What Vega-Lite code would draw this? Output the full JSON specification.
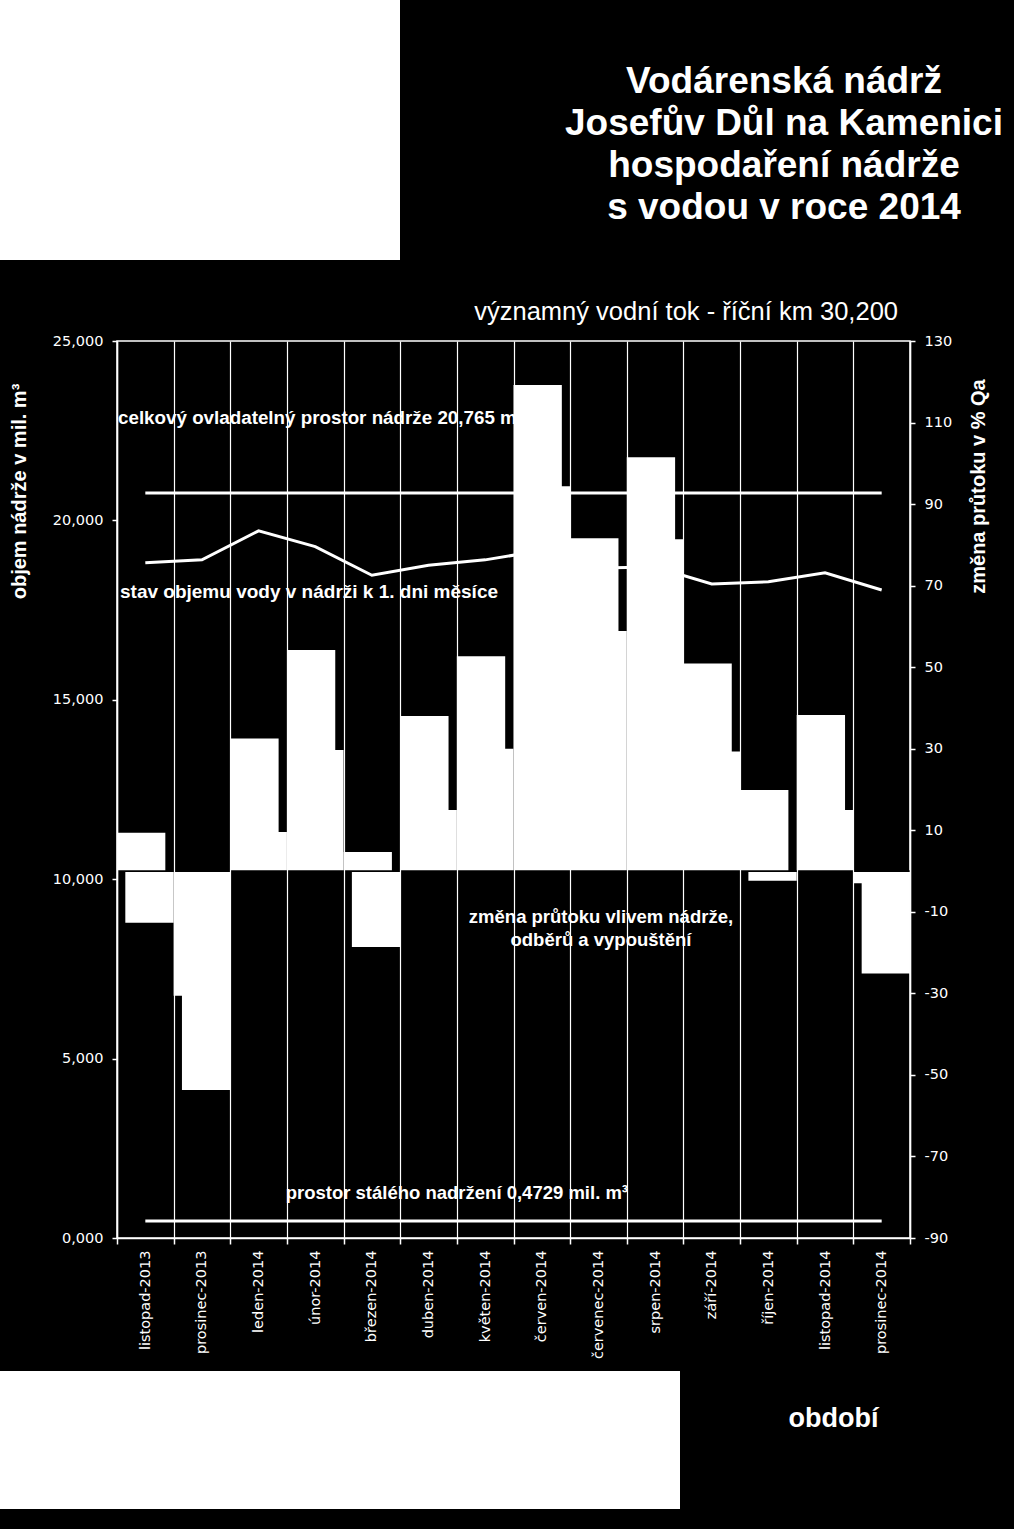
{
  "$schema": "https://vega.github.io/schema/vega-lite/v6.json",
  "background": "black",
  "padding": {"left": 0, "top": 0, "right": 0, "bottom": 20},
  "config": {"view": {"stroke": null}, "font": "Liberation Sans"},
  "columns": 2,
  "spacing": 0,
  "align": "none",
  "bounds": "flush",
  "concat": [
    {"width": 117, "height": 260, "view": {"fill": "white", "stroke": null}, "data": {"values": [{}]}, "mark": {"type": "text", "text": ""}},
    {"hconcat": [
      {"width": 283, "height": 260, "view": {"fill": "white", "stroke": null}, "data": {"values": [{}]}, "mark": {"type": "text", "text": ""}},
      {"width": 154, "height": 128, "data": {"values": [{}]}, "mark": {"type": "text", "text": ""}},
      {"width": 460, "height": 128, "data": {"values": [{}]},
       "mark": {"type": "text", "text": ["Vodárenská nádrž", "Josefův Důl na Kamenici", "hospodaření nádrže", "s vodou v roce 2014"], "align": "center", "baseline": "top", "fontSize": 37, "fontWeight": "bold", "lineHeight": 42, "color": "white", "font": "Liberation Sans"}}
     ], "spacing": 0, "bounds": "flush"},
    {"width": 117, "height": 81, "data": {"values": [{}]}, "mark": {"type": "text", "text": ""}},
    {"width": 20, "height": 20, "data": {"values": [{}]}, "mark": {"type": "text", "text": ""}},
    {"width": 117, "height": 897, "data": {"values": [{}]}, "mark": {"type": "text", "text": ""}},
    {
      "width": 793,
      "height": 897,
      "view": {"stroke": "white", "strokeWidth": 1.5},
      "title": {"text": "významný vodní  tok - říční km 30,200", "frame": "group", "anchor": "end", "dx": -12, "offset": -12, "baseline": "alphabetic", "fontSize": 25.5, "fontWeight": "normal", "color": "white", "font": "Liberation Sans"},
      "data": {"values": [
        {"mesic": "listopad-2013", "objem": 18.82, "zmena1": 9.4, "zmena2": -12.7},
        {"mesic": "prosinec-2013", "objem": 18.90, "zmena1": -30.6, "zmena2": -53.7},
        {"mesic": "leden-2014", "objem": 19.71, "zmena1": 32.5, "zmena2": 9.6},
        {"mesic": "únor-2014", "objem": 19.27, "zmena1": 54.2, "zmena2": 29.7},
        {"mesic": "březen-2014", "objem": 18.47, "zmena1": 4.7, "zmena2": -18.6},
        {"mesic": "duben-2014", "objem": 18.75, "zmena1": 38.0, "zmena2": 15.0},
        {"mesic": "květen-2014", "objem": 18.90, "zmena1": 52.7, "zmena2": 30.0},
        {"mesic": "červen-2014", "objem": 19.16, "zmena1": 119.2, "zmena2": 94.4},
        {"mesic": "červenec-2014", "objem": 18.67, "zmena1": 81.6, "zmena2": 58.9},
        {"mesic": "srpen-2014", "objem": 18.70, "zmena1": 101.5, "zmena2": 81.4},
        {"mesic": "září-2014", "objem": 18.23, "zmena1": 50.9, "zmena2": 29.3},
        {"mesic": "říjen-2014", "objem": 18.29, "zmena1": 19.9, "zmena2": -2.4},
        {"mesic": "listopad-2014", "objem": 18.54, "zmena1": 38.3, "zmena2": 15.0},
        {"mesic": "prosinec-2014", "objem": 18.06, "zmena1": -3.0, "zmena2": -25.1}
      ]},
      "layer": [
        {"mark": {"type": "line", "color": "white", "strokeWidth": 3},
         "encoding": {
           "x": {"field": "mesic", "type": "ordinal", "sort": null,
                 "scale": {"domain": ["listopad-2013","prosinec-2013","leden-2014","únor-2014","březen-2014","duben-2014","květen-2014","červen-2014","červenec-2014","srpen-2014","září-2014","říjen-2014","listopad-2014","prosinec-2014"], "paddingInner": 0, "paddingOuter": 0},
                 "axis": {"orient": "bottom", "zindex": 1, "title": "období", "titleX": 716, "titleY": 188, "titleAlign": "center", "titleBaseline": "alphabetic", "titleAngle": 0, "titleFontSize": 27, "titleFontWeight": "bold", "titleColor": "white", "titleFont": "Liberation Sans",
                          "labelAngle": 270, "labelFont": "DejaVu Sans", "labelFontSize": 14.5, "labelColor": "white", "labelPadding": 6, "labelOverlap": false,
                          "tickBand": "extent", "tickSize": 6, "tickColor": "white", "tickWidth": 1.5,
                          "grid": true, "gridColor": "white", "gridWidth": 1.2, "domainColor": "white", "domainWidth": 1.5}},
           "y": {"field": "objem", "type": "quantitative",
                 "scale": {"domain": [0, 25], "nice": false, "zero": false},
                 "axis": {"orient": "left", "zindex": 1, "values": [0, 5, 10, 15, 20, 25], "labelExpr": "replace(format(datum.value, '.3f'), '.', ',')",
                          "labelFont": "DejaVu Sans", "labelFontSize": 14.5, "labelColor": "white", "labelPadding": 9,
                          "tickSize": 5, "tickColor": "white", "tickWidth": 1.5, "domainColor": "white", "domainWidth": 1.5, "grid": false,
                          "title": "objem nádrže v mil. m³", "titleX": -98, "titleY": 150, "titleAngle": 270, "titleAlign": "center", "titleBaseline": "middle",
                          "titleFontSize": 20, "titleFontWeight": "bold", "titleColor": "white", "titleFont": "Liberation Sans"}}
         }},
        {"data": {"values": [{}]},
         "mark": {"type": "text", "text": "celkový ovladatelný prostor nádrže 20,765 mil. m³", "align": "left", "baseline": "alphabetic", "dx": 1, "fontSize": 18.8, "fontWeight": "bold", "color": "white"},
         "encoding": {
           "x": {"datum": "listopad-2013", "bandPosition": 0},
           "y": {"datum": 22.69, "scale": {"domain": [0, 25], "nice": false, "zero": false}, "axis": null}
         }},
        {"data": {"values": [{}]},
         "mark": {"type": "rule", "color": "white", "strokeWidth": 3},
         "encoding": {
           "x": {"datum": "listopad-2013"},
           "x2": {"datum": "prosinec-2014"},
           "y": {"datum": 20.765, "scale": {"domain": [0, 25], "nice": false, "zero": false}, "axis": null}
         }},
        {"data": {"values": [{}]},
         "mark": {"type": "rule", "color": "white", "strokeWidth": 3},
         "encoding": {
           "x": {"datum": "listopad-2013"},
           "x2": {"datum": "prosinec-2014"},
           "y": {"datum": 0.4729, "scale": {"domain": [0, 25], "nice": false, "zero": false}, "axis": null}
         }},
        {"data": {"values": [{}]},
         "mark": {"type": "text", "text": "stav objemu vody v  nádrži k 1. dni měsíce", "align": "left", "baseline": "alphabetic", "dx": 3, "fontSize": 19, "fontWeight": "bold", "color": "white"},
         "encoding": {
           "x": {"datum": "listopad-2013", "bandPosition": 0},
           "y": {"datum": 17.84, "scale": {"domain": [0, 25], "nice": false, "zero": false}, "axis": null}
         }},
        {"data": {"values": [{}]},
         "mark": {"type": "text", "text": "prostor stálého nadržení 0,4729 mil. m³", "align": "center", "baseline": "alphabetic", "fontSize": 18.5, "fontWeight": "bold", "color": "white"},
         "encoding": {
           "x": {"datum": "květen-2014", "bandPosition": 0},
           "y": {"datum": 1.087, "scale": {"domain": [0, 25], "nice": false, "zero": false}, "axis": null}
         }},
        {"mark": {"type": "bar", "color": "white", "width": {"band": 0.853}, "xOffset": -4.15},
         "encoding": {
           "x": {"field": "mesic", "type": "ordinal", "sort": null},
           "y": {"field": "zmena1", "type": "quantitative",
                 "scale": {"domain": [-90, 130], "nice": false},
                 "axis": {"orient": "right", "zindex": 1, "values": [-90, -70, -50, -30, -10, 10, 30, 50, 70, 90, 110, 130], "labelExpr": "replace(datum.label, '−', '-')",
                          "labelFont": "DejaVu Sans", "labelFontSize": 14.5, "labelColor": "white", "labelPadding": 9,
                          "tickSize": 5, "tickColor": "white", "tickWidth": 1.5, "domainColor": "white", "domainWidth": 1.5, "grid": false,
                          "title": "změna průtoku v % Qa", "titleX": 68, "titleY": 145, "titleAngle": 270, "titleAlign": "center", "titleBaseline": "middle",
                          "titleFontSize": 20, "titleFontWeight": "bold", "titleColor": "white", "titleFont": "Liberation Sans"}}
         }},
        {"mark": {"type": "bar", "color": "white", "width": {"band": 0.853}, "xOffset": 4.15},
         "encoding": {
           "x": {"field": "mesic", "type": "ordinal", "sort": null},
           "y": {"field": "zmena2", "type": "quantitative", "scale": {"domain": [-90, 130], "nice": false}, "axis": null}
         }},
        {"data": {"values": [{}]},
         "mark": {"type": "rule", "color": "black", "strokeWidth": 1.7},
         "encoding": {
           "y": {"datum": 0, "scale": {"domain": [-90, 130], "nice": false}, "axis": null}
         }},
        {"data": {"values": [{}]},
         "mark": {"type": "text", "text": ["změna průtoku vlivem nádrže,", "odběrů a vypouštění"], "align": "center", "baseline": "alphabetic", "lineHeight": 23, "dx": 2.5, "fontSize": 18.5, "fontWeight": "bold", "color": "white"},
         "encoding": {
           "x": {"datum": "červenec-2014"},
           "y": {"datum": -12.75, "scale": {"domain": [-90, 130], "nice": false}, "axis": null}
         }}
      ],
      "resolve": {"scale": {"y": "independent"}, "axis": {"y": "independent"}}
    },
    {"width": 20, "height": 133, "data": {"values": [{}]}, "mark": {"type": "text", "text": ""}},
    {"width": 20, "height": 20, "data": {"values": [{}]}, "mark": {"type": "text", "text": ""}},
    {"width": 117, "height": 138, "view": {"fill": "white", "stroke": null}, "data": {"values": [{}]}, "mark": {"type": "text", "text": ""}},
    {"width": 563, "height": 138, "view": {"fill": "white", "stroke": null}, "data": {"values": [{}]}, "mark": {"type": "text", "text": ""}}
  ]
}
